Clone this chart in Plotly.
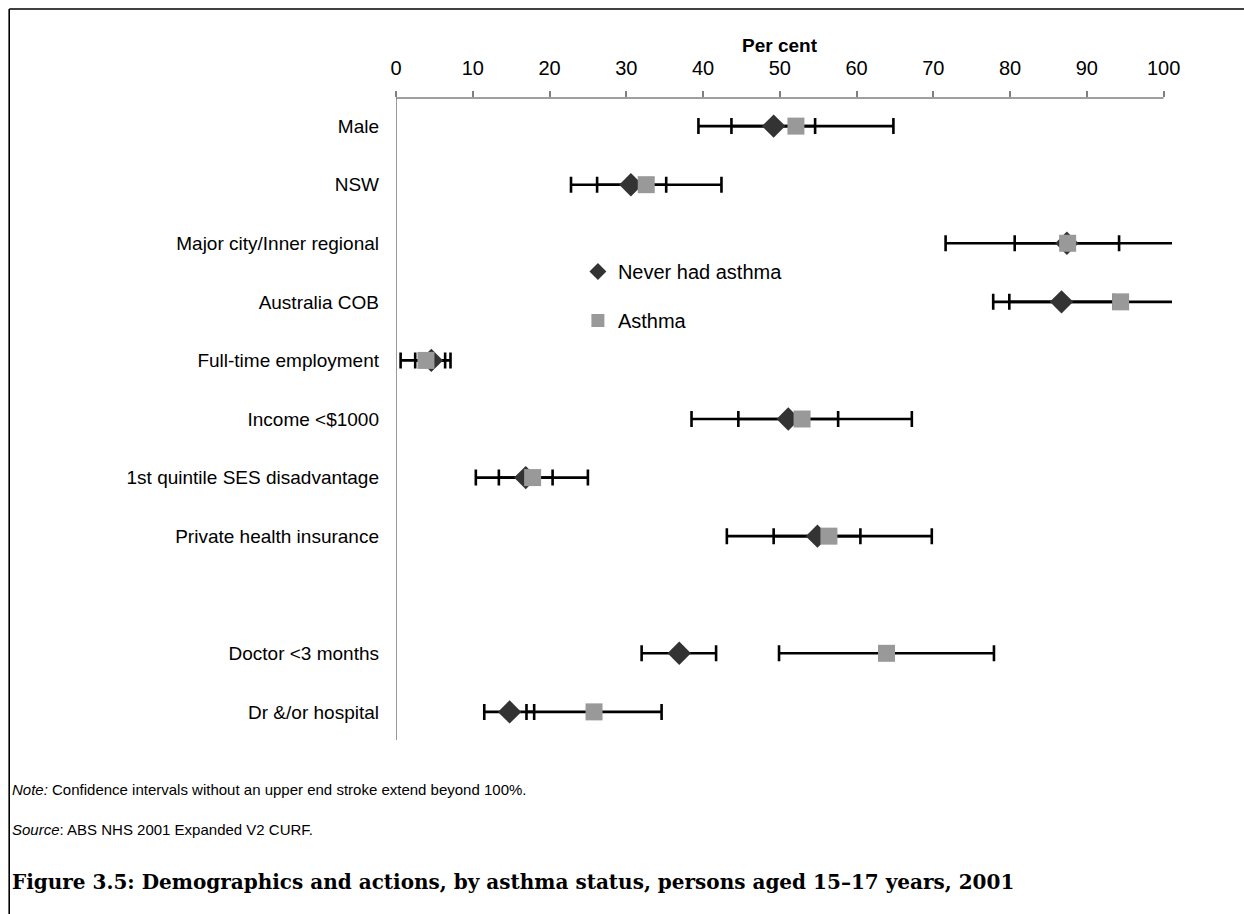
import plotly.graph_objects as go

# Survey categories, top to bottom
categories = [
    "Male", "NSW", "Major city/Inner regional", "Australia COB",
    "Full-time employment", "Income <$1000", "1st quintile SES disadvantage",
    "Private health insurance", "Doctor <3 months", "Dr &/or hospital",
]
# A blank row separates the demographic rows from the action rows
gap_after = "Private health insurance"

# Per cent estimates with 95% confidence limits
never_est = [49.2, 30.6, 87.4, 86.7, 4.6, 51.1, 16.9, 54.9, 36.9, 14.8]
never_lo = [43.7, 26.2, 80.6, 79.9, 2.5, 44.6, 13.4, 49.2, 32.0, 11.5]
never_hi = [54.6, 35.2, 94.2, 93.5, 6.4, 57.6, 20.4, 60.5, 41.7, 18.0]

asthma_est = [52.1, 32.6, 87.5, 94.4, 3.9, 52.9, 17.8, 56.4, 63.9, 25.8]
asthma_lo = [39.4, 22.8, 71.6, 77.8, 0.6, 38.5, 10.4, 43.1, 49.9, 17.0]
asthma_hi = [64.8, 42.4, 103.4, 111.0, 7.1, 67.2, 25.0, 69.8, 77.9, 34.6]

x_ticks = [0, 10, 20, 30, 40, 50, 60, 70, 80, 90, 100]

# Row positions (with the blank row inserted)
y_pos = []
pos = 0
for i, c in enumerate(categories):
    y_pos.append(pos)
    pos += 2 if c == gap_after else 1

# Page geometry in pixels
W, H = 1244, 914
PL, PR, PT, PB = 396, 1172.4, 98, 740


def px_x(px):
    return (px - PL) / (PR - PL)


def px_y(py):
    return (PB - py) / (PB - PT)


FONT = "Liberation Sans, Arial, sans-serif"
DIAMOND_COL = "#333333"
SQUARE_COL = "#999999"

fig = go.Figure()


def ci_trace(est, lo, hi):
    return go.Scatter(
        x=est, y=y_pos, mode="markers",
        marker=dict(size=1, opacity=0),
        error_x=dict(
            type="data", symmetric=False,
            array=[h - e for h, e in zip(hi, est)],
            arrayminus=[e - l for e, l in zip(est, lo)],
            color="black", thickness=2.6, width=8,
        ),
        showlegend=False, hoverinfo="skip",
    )


fig.add_trace(ci_trace(asthma_est, asthma_lo, asthma_hi))
fig.add_trace(ci_trace(never_est, never_lo, never_hi))

fig.add_trace(go.Scatter(
    x=never_est, y=y_pos, mode="markers",
    marker=dict(symbol="diamond", size=18, color=DIAMOND_COL, line=dict(width=0)),
    showlegend=False,
))
fig.add_trace(go.Scatter(
    x=asthma_est, y=y_pos, mode="markers",
    marker=dict(symbol="square", size=17, color=SQUARE_COL, line=dict(width=0)),
    showlegend=False,
))

# Legend entries
fig.add_trace(go.Scatter(
    x=[None], y=[None], mode="markers", name="Never had asthma",
    legendgroup="a",
    marker=dict(symbol="diamond", size=13, color=DIAMOND_COL),
))
fig.add_trace(go.Scatter(
    x=[None], y=[None], mode="markers", name="Asthma",
    legendgroup="b",
    marker=dict(symbol="square", size=13, color=SQUARE_COL),
))

AX_COL = "#7f7f7f"

fig.update_xaxes(
    range=[0, (PR - PL) / 7.68],
    side="top", tickvals=x_ticks, ticktext=[str(v) for v in x_ticks],
    ticks="outside", ticklen=6, tickwidth=1.5, tickcolor=AX_COL,
    tickfont=dict(family=FONT, size=20, color="black"),
    ticklabelstandoff=8,
    showgrid=False, zeroline=False, showline=False,
)
fig.update_yaxes(
    range=[10.48, -0.48],
    tickvals=y_pos, ticktext=categories,
    ticks="", tickfont=dict(family=FONT, size=19, color="black"),
    ticklabelstandoff=16,
    showgrid=False, zeroline=False, showline=False,
)

shapes = [
    # axis lines
    dict(type="line", xref="x", yref="paper", x0=0, x1=100, y0=1, y1=1,
         line=dict(color=AX_COL, width=1.6)),
    dict(type="line", xref="x", yref="paper", x0=0, x1=0, y0=0, y1=1,
         line=dict(color=AX_COL, width=1.6)),
    # page frame
    dict(type="line", xref="paper", yref="paper",
         x0=px_x(9), x1=px_x(W + 5), y0=px_y(9), y1=px_y(9),
         line=dict(color="black", width=1.6)),
    dict(type="line", xref="paper", yref="paper",
         x0=px_x(9), x1=px_x(9), y0=px_y(9), y1=px_y(H + 5),
         line=dict(color="black", width=1.6)),
]

annotations = [
    dict(text="<b>Per cent</b>", xref="x", yref="paper", x=50, y=px_y(45),
         showarrow=False, font=dict(family=FONT, size=19, color="black"),
         xanchor="center", yanchor="middle"),
    dict(text="<i>Note:</i> Confidence intervals without an upper end stroke extend beyond 100%.",
         xref="paper", yref="paper", x=px_x(10), y=px_y(790),
         showarrow=False, font=dict(family=FONT, size=15, color="black"),
         xanchor="left", yanchor="middle"),
    dict(text="<i>Source</i>: ABS NHS 2001 Expanded V2 CURF.",
         xref="paper", yref="paper", x=px_x(10), y=px_y(830),
         showarrow=False, font=dict(family=FONT, size=15, color="black"),
         xanchor="left", yanchor="middle"),
    dict(text="<b>Figure 3.5: Demographics and actions, by asthma status, persons aged 15–17 years, 2001</b>",
         xref="paper", yref="paper", x=px_x(10), y=px_y(882),
         showarrow=False, font=dict(family="DejaVu Serif, serif", size=20, color="black"),
         xanchor="left", yanchor="middle"),
]

fig.update_layout(
    width=W, height=H,
    margin=dict(l=PL, r=W - PR, t=PT, b=H - PB, autoexpand=False),
    paper_bgcolor="white", plot_bgcolor="white",
    shapes=shapes, annotations=annotations,
    showlegend=True,
    legend=dict(
        x=px_x(578), y=px_y(252), xanchor="left", yanchor="top",
        font=dict(family=FONT, size=20, color="black"),
        bgcolor="rgba(0,0,0,0)", tracegroupgap=20, traceorder="grouped",
        itemsizing="trace",
    ),
)

fig.write_html("out.html")
